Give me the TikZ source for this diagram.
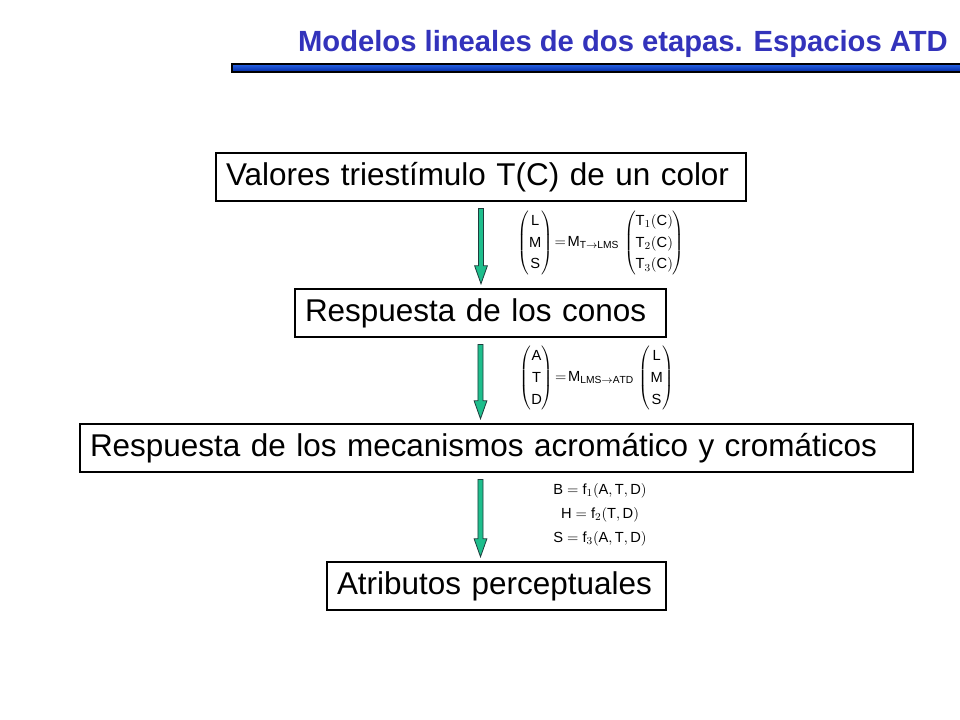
\documentclass[tikz,border=0pt]{standalone}
\usepackage{fontspec}
\setmainfont{Liberation Sans}
\usetikzlibrary{calc}

\definecolor{titulo}{RGB}{51,51,187}
\definecolor{verdeflecha}{RGB}{30,190,140}
\definecolor{bordeflecha}{RGB}{30,60,60}
\definecolor{barraclara}{RGB}{40,100,230}
\definecolor{barraoscura}{RGB}{0,40,160}

\begin{document}
\begin{tikzpicture}[x=0.75pt,y=-0.75pt]

\def\pix{0.75pt}

\tikzset{
	caja/.style={draw, line width=0.8pt, minimum height={48*\pix}, inner xsep={10*\pix},
		align=left, font=\fontsize{23.6}{28}\selectfont},
	formula/.style={inner sep=0pt, font=\fontsize{11}{13}\selectfont},
	flecha/.style={line width=0.6pt, draw=bordeflecha, fill=verdeflecha},
}

\path [use as bounding box] (0,0) rectangle (960,720);

% TITLE
\node [anchor=base east, font=\fontsize{21.9}{26}\selectfont\bfseries, text=titulo, inner sep=0pt]
	(titulo) at (948,52) {Modelos lineales de dos etapas. Espacios ATD};
\shade [draw=black, line width=0.8pt, top color=barraclara, bottom color=barraoscura]
	(232,64) rectangle (961,72);

% BOXES
\node [caja, text width={510*\pix}] (valores) at (481,177) {Valores triestímulo T(C) de un color};
\node [caja, text width={351*\pix}] (conos) at (480.5,313) {Respuesta de los conos};
\node [caja, text width={813*\pix}] (mecanismos) at (496.5,448) {Respuesta de los mecanismos acromático y cromáticos};
\node [caja, text width={319*\pix}] (atributos) at (496.5,586) {Atributos perceptuales};

% Function: arrow
% #1 : start (lower side of a box)
% #2 : end (upper side of a box)
\newcommand{\flecha}[2]{%
	\filldraw [flecha] let \p1=(#1), \p2=(#2) in
		(\x1-1.9pt,\y1-5.2pt) -- (\x1+1.9pt,\y1-5.2pt) -- (\x1+1.9pt,\y2+17pt)
		-- (\x1+4.8pt,\y2+17pt) -- (\x1,\y2+3.5pt) -- (\x1-4.8pt,\y2+17pt)
		-- (\x1-1.9pt,\y2+17pt) -- cycle%
}
\flecha{valores.south}{conos.north};
\flecha{conos.south}{mecanismos.north -| conos.south};
\flecha{mecanismos.south -| conos.south}{atributos.north -| conos.south};

% FORMULAS
\renewcommand{\arraystretch}{1.25}
\node [formula] (lms) at (601,243)
	{$\left(\begin{array}{@{}c@{}}\mathrm{L}\\ \mathrm{M}\\ \mathrm{S}\end{array}\right)
	\!=\!\mathrm{M}_{\mathrm{T}\to\mathrm{LMS}}\,
	\left(\begin{array}{@{}c@{}}\mathrm{T}_1(\mathrm{C})\\ \mathrm{T}_2(\mathrm{C})\\ \mathrm{T}_3(\mathrm{C})\end{array}\right)$};
\node [formula] (atd) at (597,378)
	{$\left(\begin{array}{@{}c@{}}\mathrm{A}\\ \mathrm{T}\\ \mathrm{D}\end{array}\right)
	\!=\!\mathrm{M}_{\mathrm{LMS}\to\mathrm{ATD}}\,
	\left(\begin{array}{@{}c@{}}\mathrm{L}\\ \mathrm{M}\\ \mathrm{S}\end{array}\right)$};
\node [formula, align=center, font=\fontsize{11}{18}\selectfont] (bhs) at (600,515)
	{$\mathrm{B}=\mathrm{f}_1(\mathrm{A},\mathrm{T},\mathrm{D})$\\
	 $\mathrm{H}=\mathrm{f}_2(\mathrm{T},\mathrm{D})$\\
	 $\mathrm{S}=\mathrm{f}_3(\mathrm{A},\mathrm{T},\mathrm{D})$};

\end{tikzpicture}
\end{document}
